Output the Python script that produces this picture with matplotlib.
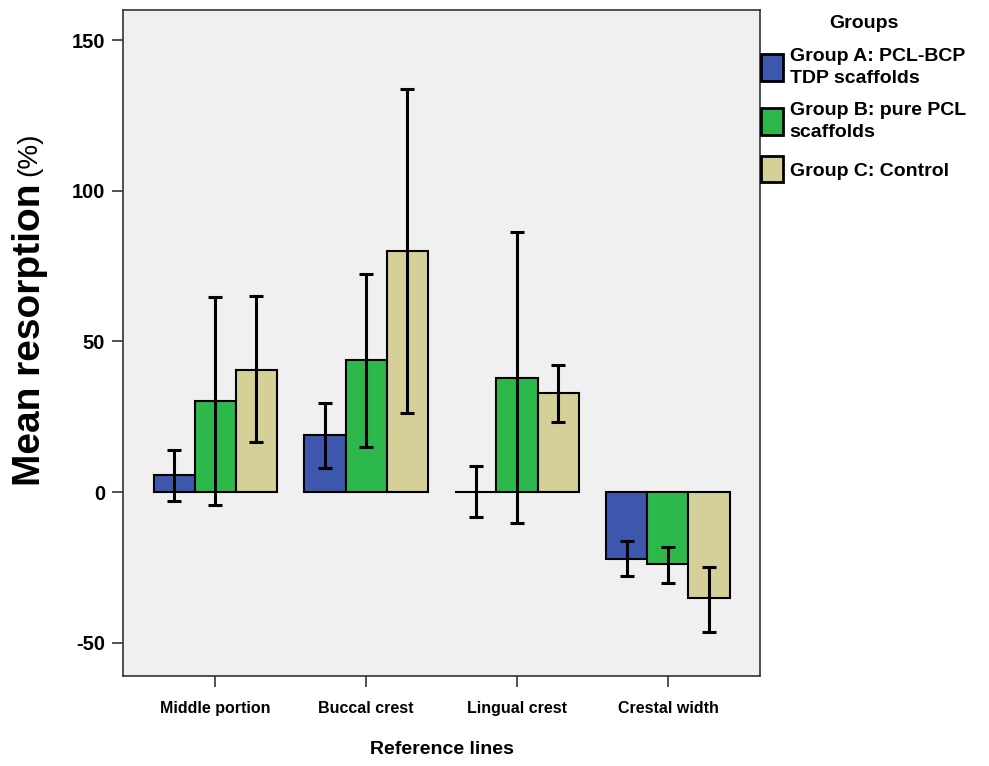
import matplotlib
matplotlib.use('Agg')
import matplotlib.pyplot as plt
import numpy as np

plt.rcParams['font.family'] = ['Liberation Sans', 'DejaVu Sans']
plt.rcParams['axes.unicode_minus'] = False

categories = ['Middle portion', 'Buccal crest', 'Lingual crest', 'Crestal width']
groups = ['Group A: PCL-BCP\nTDP scaffolds', 'Group B: pure PCL\nscaffolds', 'Group C: Control']
colors = ['#3d57ad', '#2db84b', '#d5cf98']

means_a = [5.6, 19.0, 0.0, -22.2]
means_b = [30.2, 43.8, 38.0, -24.0]
means_c = [40.5, 80.0, 32.8, -35.2]
lower_a = [-3.0, 8.0, -8.2, -27.9]
upper_a = [14.0, 29.6, 8.6, -16.3]
lower_b = [-4.3, 15.0, -10.4, -30.2]
upper_b = [64.7, 72.4, 86.3, -18.2]
lower_c = [16.6, 26.3, 23.3, -46.5]
upper_c = [65.0, 133.7, 42.1, -24.8]

means = [means_a, means_b, means_c]
lowers = [lower_a, lower_b, lower_c]
uppers = [upper_a, upper_b, upper_c]

fig = plt.figure(figsize=(9.89, 7.66), dpi=100)
ax = fig.add_axes([0.1244, 0.1175, 0.6441, 0.8695])
ax.set_facecolor('#f0f0f0')

x = np.arange(len(categories))
w = 0.272
for i in range(3):
    xs = x + (i - 1) * w
    m = np.array(means[i])
    lo = m - np.array(lowers[i])
    hi = np.array(uppers[i]) - m
    ax.bar(xs, m, width=w, color=colors[i], edgecolor='black', linewidth=1.5,
           label=groups[i], zorder=2)
    ax.errorbar(xs, m, yerr=[lo, hi], fmt='none', ecolor='black', elinewidth=2.2,
                capsize=5, capthick=2.2, zorder=3)

ax.set_xlim(-0.61, 3.61)
ax.set_ylim(-61, 160)
ax.set_yticks([-50, 0, 50, 100, 150])
ax.set_xticks(x)
ax.set_xticklabels(categories, fontsize=11.5, fontweight='bold')
for t in ax.get_yticklabels():
    t.set_fontsize(14.5)
    t.set_fontweight('bold')
ax.tick_params(axis='both', length=8, width=1.2, color='#333333', pad=5)
ax.tick_params(axis='x', pad=10)
for s in ax.spines.values():
    s.set_color('#333333')
    s.set_linewidth(1.2)

ax.set_xlabel('Reference lines', fontsize=14, fontweight='bold', labelpad=18)
fig.text(0.030, 0.563, 'Mean resorption', rotation=90, fontsize=28, fontweight='bold',
         ha='center', va='center')
fig.text(0.030, 0.798, '(%)', rotation=90, fontsize=20,
         ha='center', va='center')

leg = fig.legend(loc='upper left', bbox_to_anchor=(0.762, 0.99), frameon=False,
                 title='Groups', prop={'weight': 'bold', 'size': 14},
                 handlelength=1.1, handleheight=1.7, handletextpad=0.35,
                 labelspacing=0.8, borderaxespad=0)
leg.get_title().set_fontweight('bold')
leg.get_title().set_fontsize(14)
for t in leg.get_texts():
    t.set_linespacing(1.35)
for h in leg.legend_handles:
    h.set_linewidth(2)

plt.savefig('out.png', dpi=100)
